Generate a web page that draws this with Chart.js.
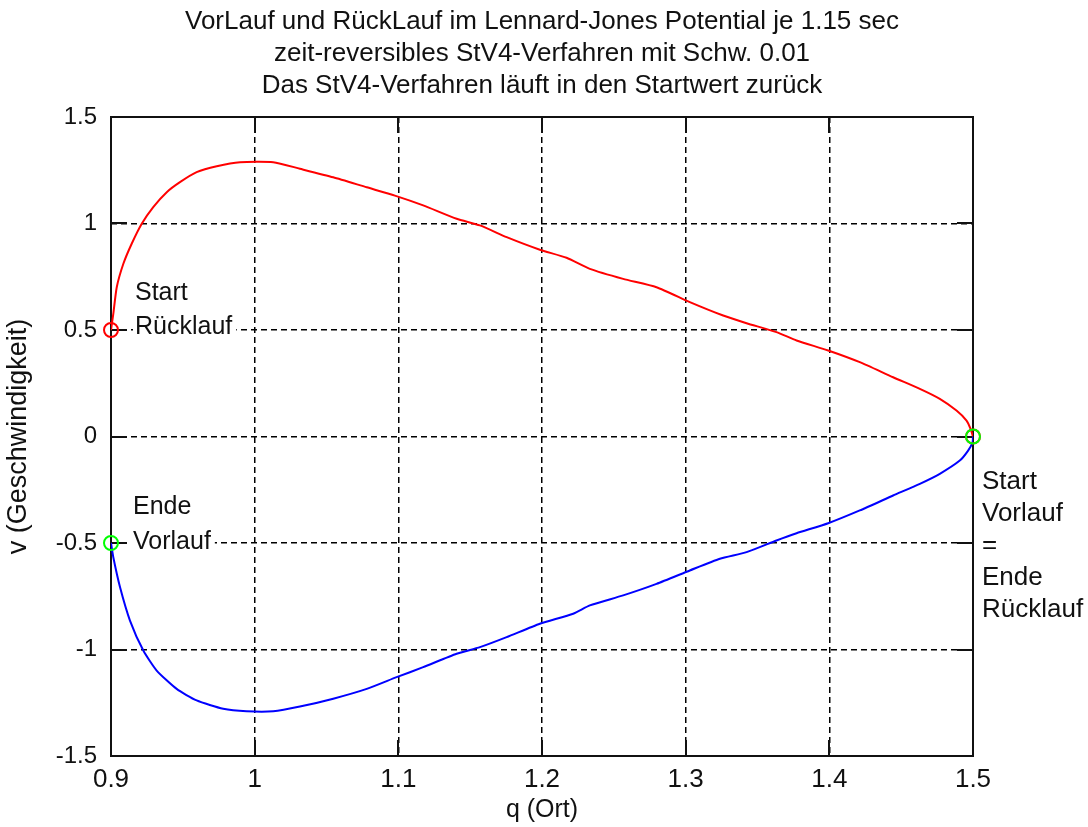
<!DOCTYPE html>
<html>
<head>
<meta charset="utf-8">
<script src="https://cdn.jsdelivr.net/npm/chart.js@4/dist/chart.umd.min.js"></script>
<style>
  html, body { margin: 0; padding: 0; background: #fff; }
  #wrap { width: 1088px; height: 827px; }
</style>
</head>
<body>
<div id="wrap"><canvas id="chart" width="1088" height="827"></canvas></div>
<script>
// Rücklauf (red), q ascending
const rueckQ = [0.9, 0.9016, 0.904, 0.9086, 0.9144, 0.9214, 0.9294, 0.9388, 0.948, 0.9596,
  0.9736, 0.9898, 1.0129, 1.0315, 1.0547, 1.078, 1.0976, 1.1173, 1.1406, 1.1568,
  1.1754, 1.1985, 1.2171, 1.2333, 1.2565, 1.2797, 1.3029, 1.3261, 1.3424, 1.3632,
  1.3772, 1.3992, 1.4212, 1.4444, 1.463, 1.4769, 1.4885, 1.4955, 1.4983, 1.5];
const rueckV = [0.5, 0.576, 0.701, 0.811, 0.905, 0.999, 1.077, 1.147, 1.194, 1.241,
  1.269, 1.288, 1.288, 1.257, 1.217, 1.17, 1.131, 1.085, 1.022, 0.991,
  0.936, 0.877, 0.839, 0.787, 0.74, 0.701, 0.631, 0.568, 0.532, 0.49,
  0.451, 0.404, 0.349, 0.278, 0.224, 0.177, 0.122, 0.075, 0.036, 0];

// Vorlauf (blue)
const vorQ = [0.9, 0.9016, 0.9063, 0.9132, 0.9225, 0.9318, 0.9457, 0.9596, 0.9781, 0.9944,
  1.0129, 1.0315, 1.0547, 1.078, 1.0988, 1.1173, 1.1406, 1.1568, 1.1754, 1.1985,
  1.2217, 1.2333, 1.2565, 1.2797, 1.3029, 1.3238, 1.3424, 1.3632, 1.3772, 1.3992,
  1.4212, 1.4444, 1.463, 1.4769, 1.4908, 1.4966, 1.4997, 1.5];
const vorV = [-0.5, -0.567, -0.708, -0.864, -1.005, -1.099, -1.185, -1.239, -1.278, -1.29,
  -1.29, -1.268, -1.231, -1.185, -1.13, -1.083, -1.02, -0.989, -0.942, -0.879,
  -0.832, -0.793, -0.746, -0.692, -0.629, -0.574, -0.543, -0.488, -0.454, -0.407,
  -0.347, -0.277, -0.222, -0.175, -0.113, -0.066, -0.027, 0];

// start / end markers
const redMarks = [{ x: 0.9, y: 0.5 }, { x: 1.5, y: 0 }];
const greenMarks = [{ x: 0.9, y: -0.5 }, { x: 1.5, y: 0 }];

const titleLines = [
  "VorLauf und RückLauf im Lennard-Jones Potential je 1.15 sec",
  "zeit-reversibles StV4-Verfahren mit Schw. 0.01",
  "Das StV4-Verfahren läuft in den Startwert zurück",
];
const xTitle = "q (Ort)";
const yTitle = "v (Geschwindigkeit)";

// labels next to the markers
const notes = [
  { at: { x: 0.9, y: 0.5 }, dx: 24, size: 25, dy: [-37, -3], lines: ["Start", "Rücklauf"] },
  { at: { x: 0.9, y: -0.5 }, dx: 22, size: 25, dy: [-36, -1], lines: ["Ende", "Vorlauf"] },
  { at: { x: 1.5, y: 0 }, dx: 9, size: 26, dy: [45, 77, 109, 141, 173], lines: ["Start", "Vorlauf", "=", "Ende", "Rücklauf"] },
];

const FONT = "'Liberation Sans', Arial, sans-serif";
const TICK = 16;

const pts = (qs, vs) => qs.map((q, i) => ({ x: q, y: vs[i] }));
const fmt = (v) => String(Math.round(v * 10) / 10);

const frame = {
  id: "frame",
  beforeDatasetsDraw(chart) {
    const { ctx, chartArea: a, scales: { x, y } } = chart;
    ctx.save();
    ctx.strokeStyle = "#111";
    ctx.lineWidth = 2;
    ctx.strokeRect(a.left, a.top, a.right - a.left, a.bottom - a.top);
    ctx.beginPath();
    x.ticks.forEach((t) => {
      const px = Math.round(x.getPixelForValue(t.value));
      ctx.moveTo(px, a.bottom); ctx.lineTo(px, a.bottom - TICK);
      ctx.moveTo(px, a.top); ctx.lineTo(px, a.top + TICK);
    });
    y.ticks.forEach((t) => {
      const py = Math.round(y.getPixelForValue(t.value));
      ctx.moveTo(a.left, py); ctx.lineTo(a.left + TICK, py);
      ctx.moveTo(a.right, py); ctx.lineTo(a.right - TICK, py);
    });
    ctx.stroke();

    // text notes with white box (hides the grid behind them)
    ctx.textBaseline = "middle";
    ctx.textAlign = "left";
    notes.forEach((n) => {
      ctx.font = n.size + "px " + FONT;
      const bx = x.getPixelForValue(n.at.x) + n.dx;
      const by = y.getPixelForValue(n.at.y);
      n.lines.forEach((s, i) => {
        const w = ctx.measureText(s).width;
        ctx.fillStyle = "#fff";
        ctx.fillRect(bx - 2, by + n.dy[i] - 14, w + 6, 28);
        ctx.fillStyle = "#111";
        ctx.fillText(s, bx, by + n.dy[i]);
      });
    });

    // title, centred over the plot area
    ctx.font = "26px " + FONT;
    ctx.textAlign = "center";
    ctx.fillStyle = "#111";
    titleLines.forEach((s, i) => ctx.fillText(s, (a.left + a.right) / 2, 22 + i * 32));
    ctx.restore();
  },
};

new Chart(document.getElementById("chart"), {
  type: "scatter",
  data: {
    datasets: [
      {
        data: greenMarks, showLine: false, pointRadius: 7, pointHoverRadius: 7,
        pointBorderColor: "#00ff00", pointBackgroundColor: "rgba(0,0,0,0)", pointBorderWidth: 2, clip: false,
      },
      {
        data: redMarks, showLine: false, pointRadius: 7, pointHoverRadius: 7,
        pointBorderColor: "#ff0000", pointBackgroundColor: "rgba(0,0,0,0)", pointBorderWidth: 2, clip: false,
      },
      {
        data: pts(vorQ, vorV), showLine: true, borderColor: "#0000ff", borderWidth: 2,
        pointRadius: 0, tension: 0.2,
      },
      {
        data: pts(rueckQ, rueckV), showLine: true, borderColor: "#ff0000", borderWidth: 2,
        pointRadius: 0, tension: 0.2,
      },
    ],
  },
  options: {
    responsive: false,
    animation: false,
    devicePixelRatio: 1,
    layout: { padding: { left: 0, right: 115, top: 117, bottom: 0 } },
    plugins: {
      legend: { display: false },
      tooltip: { enabled: false },
      title: { display: false },
    },
    scales: {
      x: {
        type: "linear",
        min: 0.9,
        max: 1.5,
        ticks: { stepSize: 0.1, color: "#111", padding: 8, font: { family: FONT, size: 26 }, callback: fmt, maxRotation: 0 },
        grid: { color: "#000", lineWidth: 1.5, drawTicks: false },
        border: { display: false, dash: [6, 4] },
        title: { display: true, text: xTitle, color: "#111", font: { family: FONT, size: 25 }, padding: { top: 0, bottom: 2 } },
        afterFit(scale) { scale.height = 71; },
      },
      y: {
        min: -1.5,
        max: 1.5,
        ticks: { stepSize: 0.5, color: "#111", padding: 14, font: { family: FONT, size: 24 }, callback: fmt },
        grid: { color: "#000", lineWidth: 1.5, drawTicks: false },
        border: { display: false, dash: [6, 4] },
        title: { display: true, text: yTitle, color: "#111", font: { family: FONT, size: 27 }, padding: { top: 2, bottom: 0 } },
        afterFit(scale) { scale.width = 111; },
      },
    },
  },
  plugins: [frame],
});
</script>
</body>
</html>
